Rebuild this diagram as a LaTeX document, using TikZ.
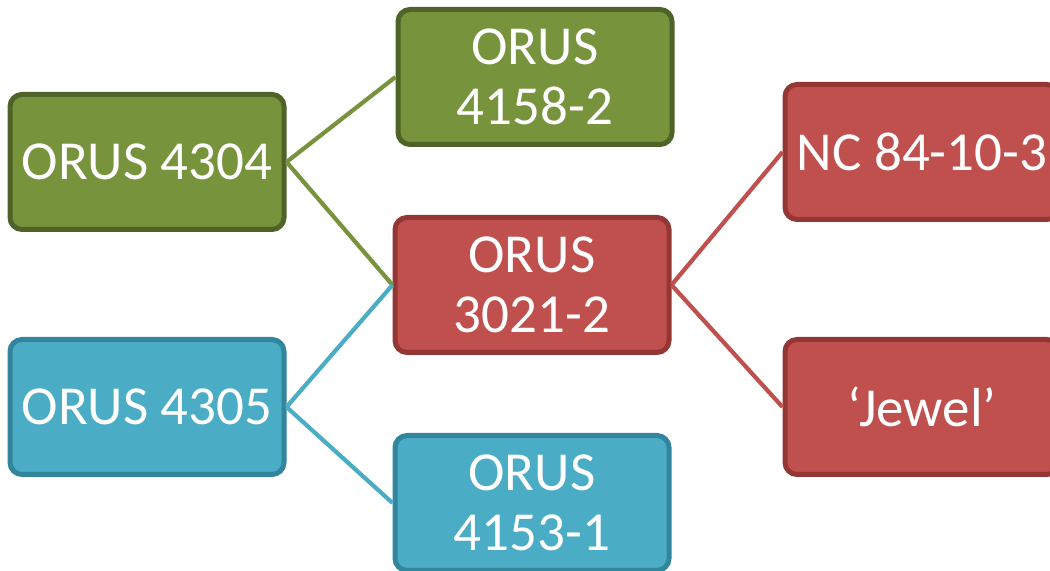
\documentclass[tikz,border=0pt]{standalone}
\usepackage{fontspec}
\setmainfont{Carlito}
\definecolor{gfill}{HTML}{77933C}
\definecolor{gdraw}{HTML}{4F6228}
\definecolor{rfill}{HTML}{C0504D}
\definecolor{rdraw}{HTML}{943634}
\definecolor{bfill}{HTML}{4BACC6}
\definecolor{bdraw}{HTML}{31859C}
\begin{document}
\begin{tikzpicture}[x=0.5pt,y=-0.5pt,
  box/.style={draw, line width=2.5pt, rounded corners=6pt, minimum width=137pt,
    minimum height=67.5pt, inner sep=0pt, text=white, align=center,
    font=\fontsize{27.5}{30}\selectfont},
  gbox/.style={box, fill=gfill, draw=gdraw},
  rbox/.style={box, fill=rfill, draw=rdraw},
  bbox/.style={box, fill=bfill, draw=bdraw},
  link/.style={line width=2.1pt}]
\useasboundingbox (0,0) rectangle (1050,571);
\clip (0,0) rectangle (1050,571);
\node[gbox] (a) at (147,162) {ORUS 4304};
\node[gbox] (b) at (535,77) {ORUS\\4158-2};
\node[rbox] (c) at (532,285) {ORUS\\3021-2};
\node[bbox] (d) at (147,407) {ORUS 4305};
\node[bbox] (e) at (532,503) {ORUS\\4153-1};
\node[rbox] (f) at (922,152) {NC 84-10-3};
\node[rbox] (g) at (922,407) {‘Jewel’};
\draw[link, gfill] (a.east) -- (b.west);
\draw[link, gfill] (a.east) -- (c.west);
\draw[link, bfill] (d.east) -- (c.west);
\draw[link, bfill] (d.east) -- (e.west);
\draw[link, rfill] (c.east) -- (f.west);
\draw[link, rfill] (c.east) -- (g.west);
\end{tikzpicture}
\end{document}
